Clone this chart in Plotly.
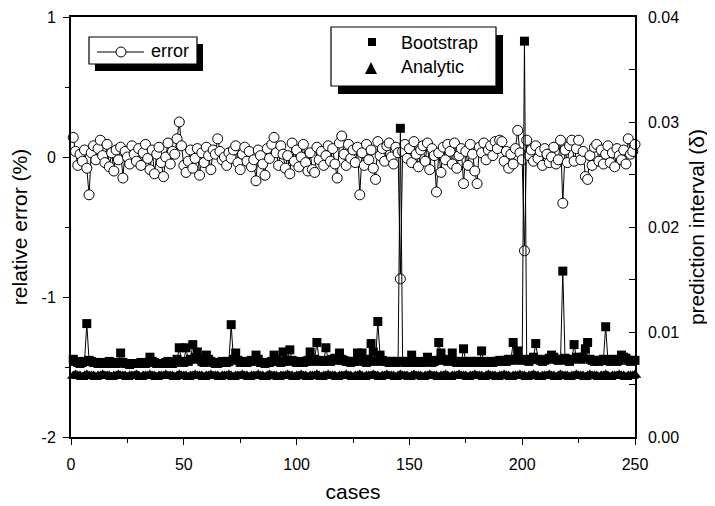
import plotly.graph_objects as go

# ---------------- data ----------------
cases = list(range(1, 251))

# relative error, in hundredths of a percent
error_c = [
    14, 4, -6, 2, -3, 5, -8, -27, 3, 8, -2, 6, 12, 1, -4, 9, -7, 3, -10, 5, -2, 7, -15, 4, 0,
    -5, 8, 2, -3, 6, -6, 3, 9, -1, -9, 5, -12, 2, 7, -4, -14, 0, 10, -5, 4, 2, 13, 25, 8, -6,
    -11, -3, 5, -8, -1, 6, -13, 3, -4, 7, 1, -9, 5, 2, 13, 4, -2, 0, -6, 3, -1, 5, 8, -4, -9,
    2, 7, -3, 4, -7, -2, -17, 5, 1, -5, -13, 6, -1, 9, 14, 3, -6, 8, 2, -8, 1, -12, 10, -3, 5,
    -7, 0, 9, -4, -10, 3, -9, -11, 7, -2, 4, -6, 1, 8, -3, 6, -5, -15, 10, 15, 2, -6, 9, -1, 5,
    -4, 7, -27, 3, -6, 9, -2, 5, -8, -16, 11, 1, 6, -3, 8, 10, 0, -5, 7, 3, -87, 4, 9, -1, 6,
    -4, 11, 2, -7, 5, 8, -3, 10, -9, 6, 1, -25, 3, -11, 7, -2, 9, 4, -5, 10, -8, 1, 6, -19, 4,
    -6, 9, 2, -10, -19, 7, 3, 10, -2, 5, 8, 1, 11, 6, 12, 11, -3, 4, -8, 2, -5, 6, 19, 3, -2,
    -67, 12, 1, 5, -3, 8, -1, 4, -6, 6, 2, -4, 0, 7, -5, -2, 12, -33, 5, -4, 8, 12, -3, 6, 12,
    -2, 4, -14, -16, 1, -6, 7, 9, -3, 5, -5, 2, 8, -4, 3, -7, 6, 1, -2, 5, -5, 13, 2, 4, 9,
]

# bootstrap prediction interval, in units of 1e-4
bootstrap_e4 = [
    74, 72, 71, 70, 71, 72, 108, 73, 72, 71, 71, 70, 71, 70, 70, 71, 72, 70, 71, 70, 71, 80, 71, 70, 70,
    69, 70, 70, 70, 70, 71, 70, 70, 71, 76, 72, 71, 70, 70, 70, 70, 71, 72, 71, 70, 71, 74, 85, 72, 71,
    85, 72, 74, 88, 76, 81, 74, 72, 71, 78, 74, 72, 71, 70, 70, 71, 72, 71, 71, 72, 107, 74, 80, 73, 71,
    72, 71, 71, 72, 73, 72, 78, 74, 71, 71, 70, 71, 71, 72, 78, 74, 72, 71, 81, 72, 73, 83, 73, 72, 71,
    71, 72, 71, 72, 73, 81, 72, 74, 90, 73, 72, 72, 85, 73, 72, 74, 75, 73, 80, 74, 73, 72, 72, 71, 72,
    72, 80, 73, 80, 72, 71, 74, 89, 81, 72, 110, 78, 73, 72, 72, 71, 72, 72, 71, 72, 294, 72, 71, 72, 71,
    78, 72, 71, 71, 72, 71, 72, 76, 72, 71, 72, 73, 90, 80, 74, 73, 72, 73, 80, 72, 71, 72, 71, 84, 72,
    71, 72, 71, 72, 72, 71, 82, 72, 71, 71, 72, 71, 72, 72, 73, 72, 73, 72, 74, 73, 90, 74, 82, 73, 74,
    377, 73, 72, 74, 76, 89, 74, 73, 72, 73, 74, 75, 78, 76, 74, 73, 74, 158, 75, 73, 72, 74, 88, 76, 75,
    74, 76, 84, 90, 74, 73, 72, 73, 72, 73, 74, 105, 73, 72, 74, 73, 72, 73, 78, 76, 75, 73, 72, 73, 73,
]

# analytic prediction interval, in units of 1e-4
analytic_e4 = [
    58, 59, 58, 58, 57, 58, 59, 58, 58, 58, 57, 58, 58, 59, 58, 58, 58, 57, 58, 58, 59, 58, 58, 58, 57,
    58, 58, 58, 59, 58, 57, 58, 58, 58, 59, 58, 58, 57, 58, 58, 58, 59, 58, 58, 58, 57, 58, 59, 58, 58,
    58, 57, 58, 58, 59, 58, 58, 58, 57, 58, 58, 59, 58, 58, 58, 57, 58, 58, 58, 59, 58, 57, 58, 58, 58,
    59, 58, 58, 57, 58, 58, 58, 59, 58, 58, 57, 58, 59, 58, 58, 58, 57, 58, 58, 58, 59, 58, 58, 57, 58,
    58, 59, 58, 58, 57, 58, 58, 58, 59, 58, 57, 58, 58, 59, 58, 58, 58, 57, 58, 58, 58, 59, 58, 58, 57,
    58, 58, 59, 58, 57, 58, 58, 58, 59, 58, 58, 57, 58, 58, 59, 58, 58, 58, 57, 58, 59, 58, 58, 58, 57,
    58, 59, 58, 58, 58, 57, 58, 58, 59, 58, 58, 58, 57, 58, 58, 59, 58, 57, 58, 58, 58, 59, 58, 58, 58,
    57, 58, 58, 59, 58, 58, 58, 57, 58, 59, 58, 58, 58, 57, 58, 58, 59, 58, 58, 57, 58, 58, 58, 59, 58,
    58, 57, 58, 58, 59, 58, 58, 57, 58, 58, 58, 59, 58, 58, 57, 58, 59, 58, 58, 58, 57, 58, 58, 59, 58,
    58, 58, 57, 58, 59, 58, 58, 58, 57, 58, 58, 59, 58, 57, 58, 58, 58, 59, 58, 58, 57, 58, 58, 58, 59,
]

x_ticks = [0, 50, 100, 150, 200, 250]
x_labels = ["0", "50", "100", "150", "200", "250"]
yl_ticks = [-2, -1, 0, 1]
yl_labels = ["-2", "-1", "0", "1"]
yr_ticks = [0, 0.01, 0.02, 0.03, 0.04]
yr_labels = ["0.00", "0.01", "0.02", "0.03", "0.04"]

assert len(error_c) == len(bootstrap_e4) == len(analytic_e4) == len(cases)

error = [v / 100 for v in error_c]
bootstrap = [v / 10000 for v in bootstrap_e4]
analytic = [v / 10000 for v in analytic_e4]

FONT = "Liberation Sans, Arial, sans-serif"

fig = go.Figure()
fig.add_trace(go.Scatter(
    x=cases, y=error, mode="lines+markers", name="error",
    line=dict(color="black", width=1),
    marker=dict(symbol="circle", size=10, color="white", line=dict(color="black", width=1)),
    cliponaxis=False, showlegend=False, yaxis="y"))
fig.add_trace(go.Scatter(
    x=cases, y=analytic, mode="lines+markers", name="Analytic",
    line=dict(color="black", width=1),
    marker=dict(symbol="triangle-up", size=11, color="black"),
    cliponaxis=False, showlegend=False, yaxis="y2"))
fig.add_trace(go.Scatter(
    x=cases, y=bootstrap, mode="lines+markers", name="Bootstrap",
    line=dict(color="black", width=1),
    marker=dict(symbol="square", size=9, color="black"),
    cliponaxis=False, showlegend=False, yaxis="y2"))

# page is offset by the 8px default body margin
OFF = 8
W, H = 715 - OFF, 506 - OFF
# plot area in page pixels
PL, PR, PT, PB = 71, 635, 17, 437

def px(x):
    return (x - PL) / (PR - PL)
def py(y):
    return (PB - y) / (PB - PT)

shapes = []
def rect(x0, y0, x1, y1, fill, lw):
    shapes.append(dict(type="rect", xref="paper", yref="paper",
                       x0=px(x0), x1=px(x1), y0=py(y1), y1=py(y0),
                       fillcolor=fill, line=dict(color="black", width=lw), layer="above"))

# legend 1 (error)
rect(95, 44, 203, 71, "black", 0)
rect(89, 37, 197, 64, "white", 1.2)
shapes.append(dict(type="line", xref="paper", yref="paper",
                   x0=px(97), x1=px(144), y0=py(52), y1=py(52),
                   line=dict(color="black", width=1), layer="above"))
shapes.append(dict(type="circle", xref="paper", yref="paper",
                   x0=px(116), x1=px(126), y0=py(57), y1=py(47),
                   fillcolor="white", line=dict(color="black", width=1), layer="above"))
# legend 2 (Bootstrap / Analytic)
rect(338, 35, 503, 94, "black", 0)
rect(331, 27, 496, 86, "white", 1.2)
shapes.append(dict(type="rect", xref="paper", yref="paper",
                   x0=px(368), x1=px(376), y0=py(46), y1=py(38),
                   fillcolor="black", line=dict(color="black", width=0), layer="above"))
shapes.append(dict(type="path", xref="paper", yref="paper",
                   path=f"M {px(365)} {py(74)} L {px(377)} {py(74)} L {px(371)} {py(62)} Z",
                   fillcolor="black", line=dict(color="black", width=0), layer="above"))

annotations = [
    dict(text="error", x=px(149), y=py(51), xref="paper", yref="paper",
         xanchor="left", yanchor="middle", showarrow=False,
         font=dict(family=FONT, size=18, color="black")),
    dict(text="Bootstrap", x=px(399), y=py(43), xref="paper", yref="paper",
         xanchor="left", yanchor="middle", showarrow=False,
         font=dict(family=FONT, size=18, color="black")),
    dict(text="Analytic", x=px(399), y=py(67), xref="paper", yref="paper",
         xanchor="left", yanchor="middle", showarrow=False,
         font=dict(family=FONT, size=18, color="black")),
]

axis_common = dict(showline=True, linecolor="black", showgrid=False,
                   zeroline=False, tickcolor="black", tickwidth=1.2, automargin=False,
                   tickfont=dict(family=FONT, size=16, color="black"))

fig.update_layout(
    width=W, height=H,
    margin=dict(l=PL - OFF, r=W - (PR - OFF), t=PT - OFF, b=H - (PB - OFF), autoexpand=False),
    plot_bgcolor="white", paper_bgcolor="white",
    font=dict(family=FONT, color="black"),
    shapes=shapes, annotations=annotations,
    xaxis=dict(range=[0, 250], tickvals=x_ticks, ticktext=x_labels, linewidth=1.5,
               ticks="outside", ticklen=6, mirror=True, ticklabelstandoff=6,
               minor=dict(dtick=25, tick0=0, ticks="outside", ticklen=4, tickcolor="black"),
               title=dict(text="cases", font=dict(family=FONT, size=21), standoff=12),
               **axis_common),
    yaxis=dict(range=[-2, 1], tickvals=yl_ticks, ticktext=yl_labels, linewidth=2,
               ticks="outside", ticklen=6, ticklabelstandoff=4,
               minor=dict(dtick=0.5, tick0=0, ticks="outside", ticklen=4, tickcolor="black"),
               title=dict(text="relative error (%)", font=dict(family=FONT, size=21), standoff=12),
               **axis_common),
    yaxis2=dict(range=[0, 0.04], overlaying="y", side="right", linewidth=1.5,
                tickvals=yr_ticks, ticktext=yr_labels,
                ticks="inside", ticklen=6, ticklabelstandoff=8,
                minor=dict(dtick=0.005, tick0=0, ticks="inside", ticklen=6, tickcolor="black"),
                title=dict(text="prediction interval (δ)", font=dict(family=FONT, size=21), standoff=11),
                **axis_common),
)

fig.write_html("out.html")
